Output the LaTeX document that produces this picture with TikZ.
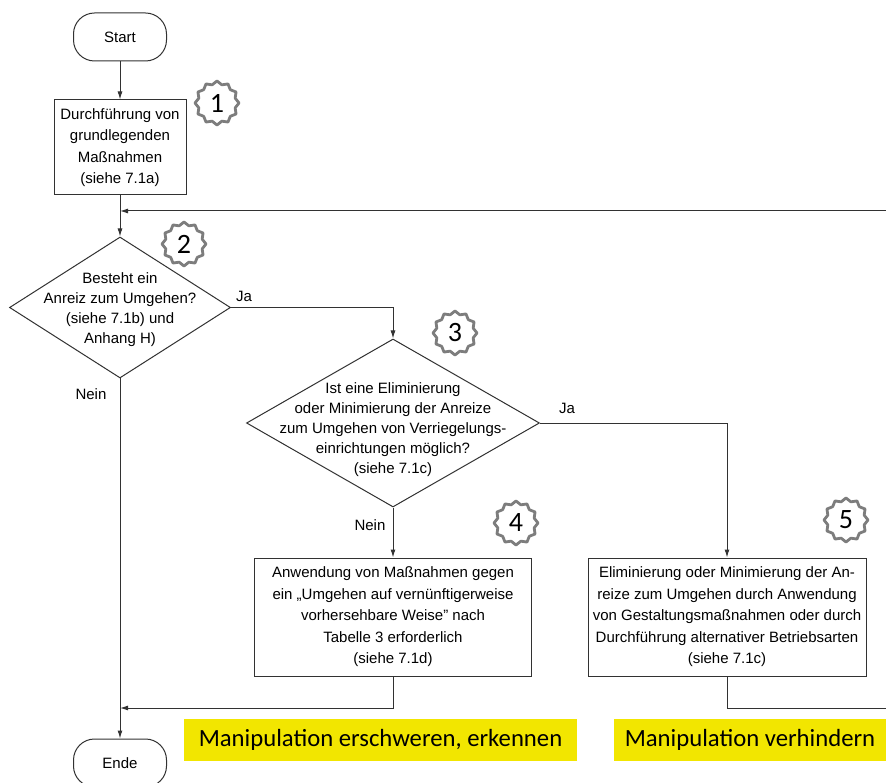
\documentclass[tikz,border=0pt]{standalone}
\usepackage{fontspec}
\setmainfont{Liberation Sans}
\newfontfamily\calfont{Carlito}
\usetikzlibrary{shapes.geometric,arrows.meta}
\definecolor{linegray}{RGB}{50,50,50}
\definecolor{badgegray}{RGB}{125,125,125}
\definecolor{markyellow}{RGB}{242,230,0}
\tikzset{
  flow/.style={draw=linegray,line width=1pt},
  terminal/.style={flow,rectangle,rounded corners=21pt,minimum width=93pt,minimum height=48pt,inner sep=0pt,font=\fontsize{15}{21}\selectfont},
  stepbox/.style={flow,rectangle,inner sep=0pt,align=center,font=\fontsize{15}{21.5}\selectfont},
  decision/.style={flow,diamond,inner sep=0pt},
  dectext/.style={align=center,inner sep=0pt,font=\fontsize{15}{20}\selectfont},
  lbl/.style={draw=none,inner sep=0pt,font=\fontsize{15}{18}\selectfont},
  badge/.style={star,star points=12,star point ratio=1.17,minimum size=44pt,inner sep=0pt,draw=badgegray,line width=2.8pt,line join=round,fill=white,font=\calfont\fontsize{28}{28}\selectfont},
  marker/.style={fill=markyellow,inner sep=0pt,minimum height=42pt,font=\calfont\fontsize{24.7}{30}\selectfont}
}
\begin{document}
\begin{tikzpicture}[x=1pt,y=-1pt,>={Latex[length=8pt,width=5pt]}]
\useasboundingbox (0,0) rectangle (886,783);
\clip (0,0) rectangle (886,783);
\fill[white] (0,0) rectangle (886,783);

\node[terminal] (start) at (120,37) {Start};
\node[stepbox,minimum width=132pt,minimum height=95pt] (grund) at (120,147.5) {Durchführung von\\grundlegenden\\Maßnahmen\\(siehe 7.1a)};
\node[decision,minimum width=221pt,minimum height=141pt] (anreiz) at (120,307.5) {};
\node[dectext] at (120,310) {Besteht ein\\Anreiz zum Umgehen?\\(siehe 7.1b) und\\Anhang H)};
\node[decision,minimum width=293pt,minimum height=168pt] (elim) at (393,423) {};
\node[dectext] at (393,430) {Ist eine Eliminierung\\oder Minimierung der Anreize\\zum Umgehen von Verriegelungs-\\einrichtungen möglich?\\(siehe 7.1c)};
\node[stepbox,minimum width=277pt,minimum height=118pt] (gegen) at (393,617) {Anwendung von Maßnahmen gegen\\ein „Umgehen auf vernünftigerweise\\vorhersehbare Weise" nach\\Tabelle 3 erforderlich\\(siehe 7.1d)};
\node[stepbox,minimum width=278pt,minimum height=118pt] (gestalt) at (727,617) {Eliminierung oder Minimierung der An-\\reize zum Umgehen durch Anwendung\\von Gestaltungsmaßnahmen oder durch\\Durchführung alternativer Betriebsarten\\(siehe 7.1c)};
\node[terminal] (ende) at (120,763) {Ende};

\coordinate (loopin) at (886,211);
\coordinate (join1) at (120,211);
\coordinate (join2) at (120,708);
\coordinate (loopout) at (886,708);

\draw[flow,->] (start) -- (grund);
\draw[flow,->] (grund) -- (anreiz.north);
\draw[flow,->] (loopin) -- (join1);
\draw[flow,->] (anreiz.east) -| (elim.north);
\draw[flow,->] (anreiz.south) -- (ende.north);
\draw[flow,->] (elim.east) -| (gestalt.north);
\draw[flow,->] (elim.south) -- (gegen.north);
\draw[flow,->] (gegen.south) |- (join2);
\draw[flow] (gestalt.south) |- (loopout);

\node[lbl] at (244,296) {Ja};
\node[lbl] at (91,394) {Nein};
\node[lbl] at (567,408) {Ja};
\node[lbl] at (370,525) {Nein};

\node[badge] (b1) at (217,103) {1};
\node[badge] (b2) at (184,244) {2};
\node[badge] (b3) at (455,333) {3};
\node[badge] (b4) at (516,523) {4};
\node[badge] (b5) at (846,520) {5};

\node[marker,minimum width=393pt] (erschw) at (380.5,740) {Manipulation erschweren, erkennen};
\node[marker,minimum width=272pt] (verhind) at (750,740) {Manipulation verhindern};
\end{tikzpicture}
\end{document}
